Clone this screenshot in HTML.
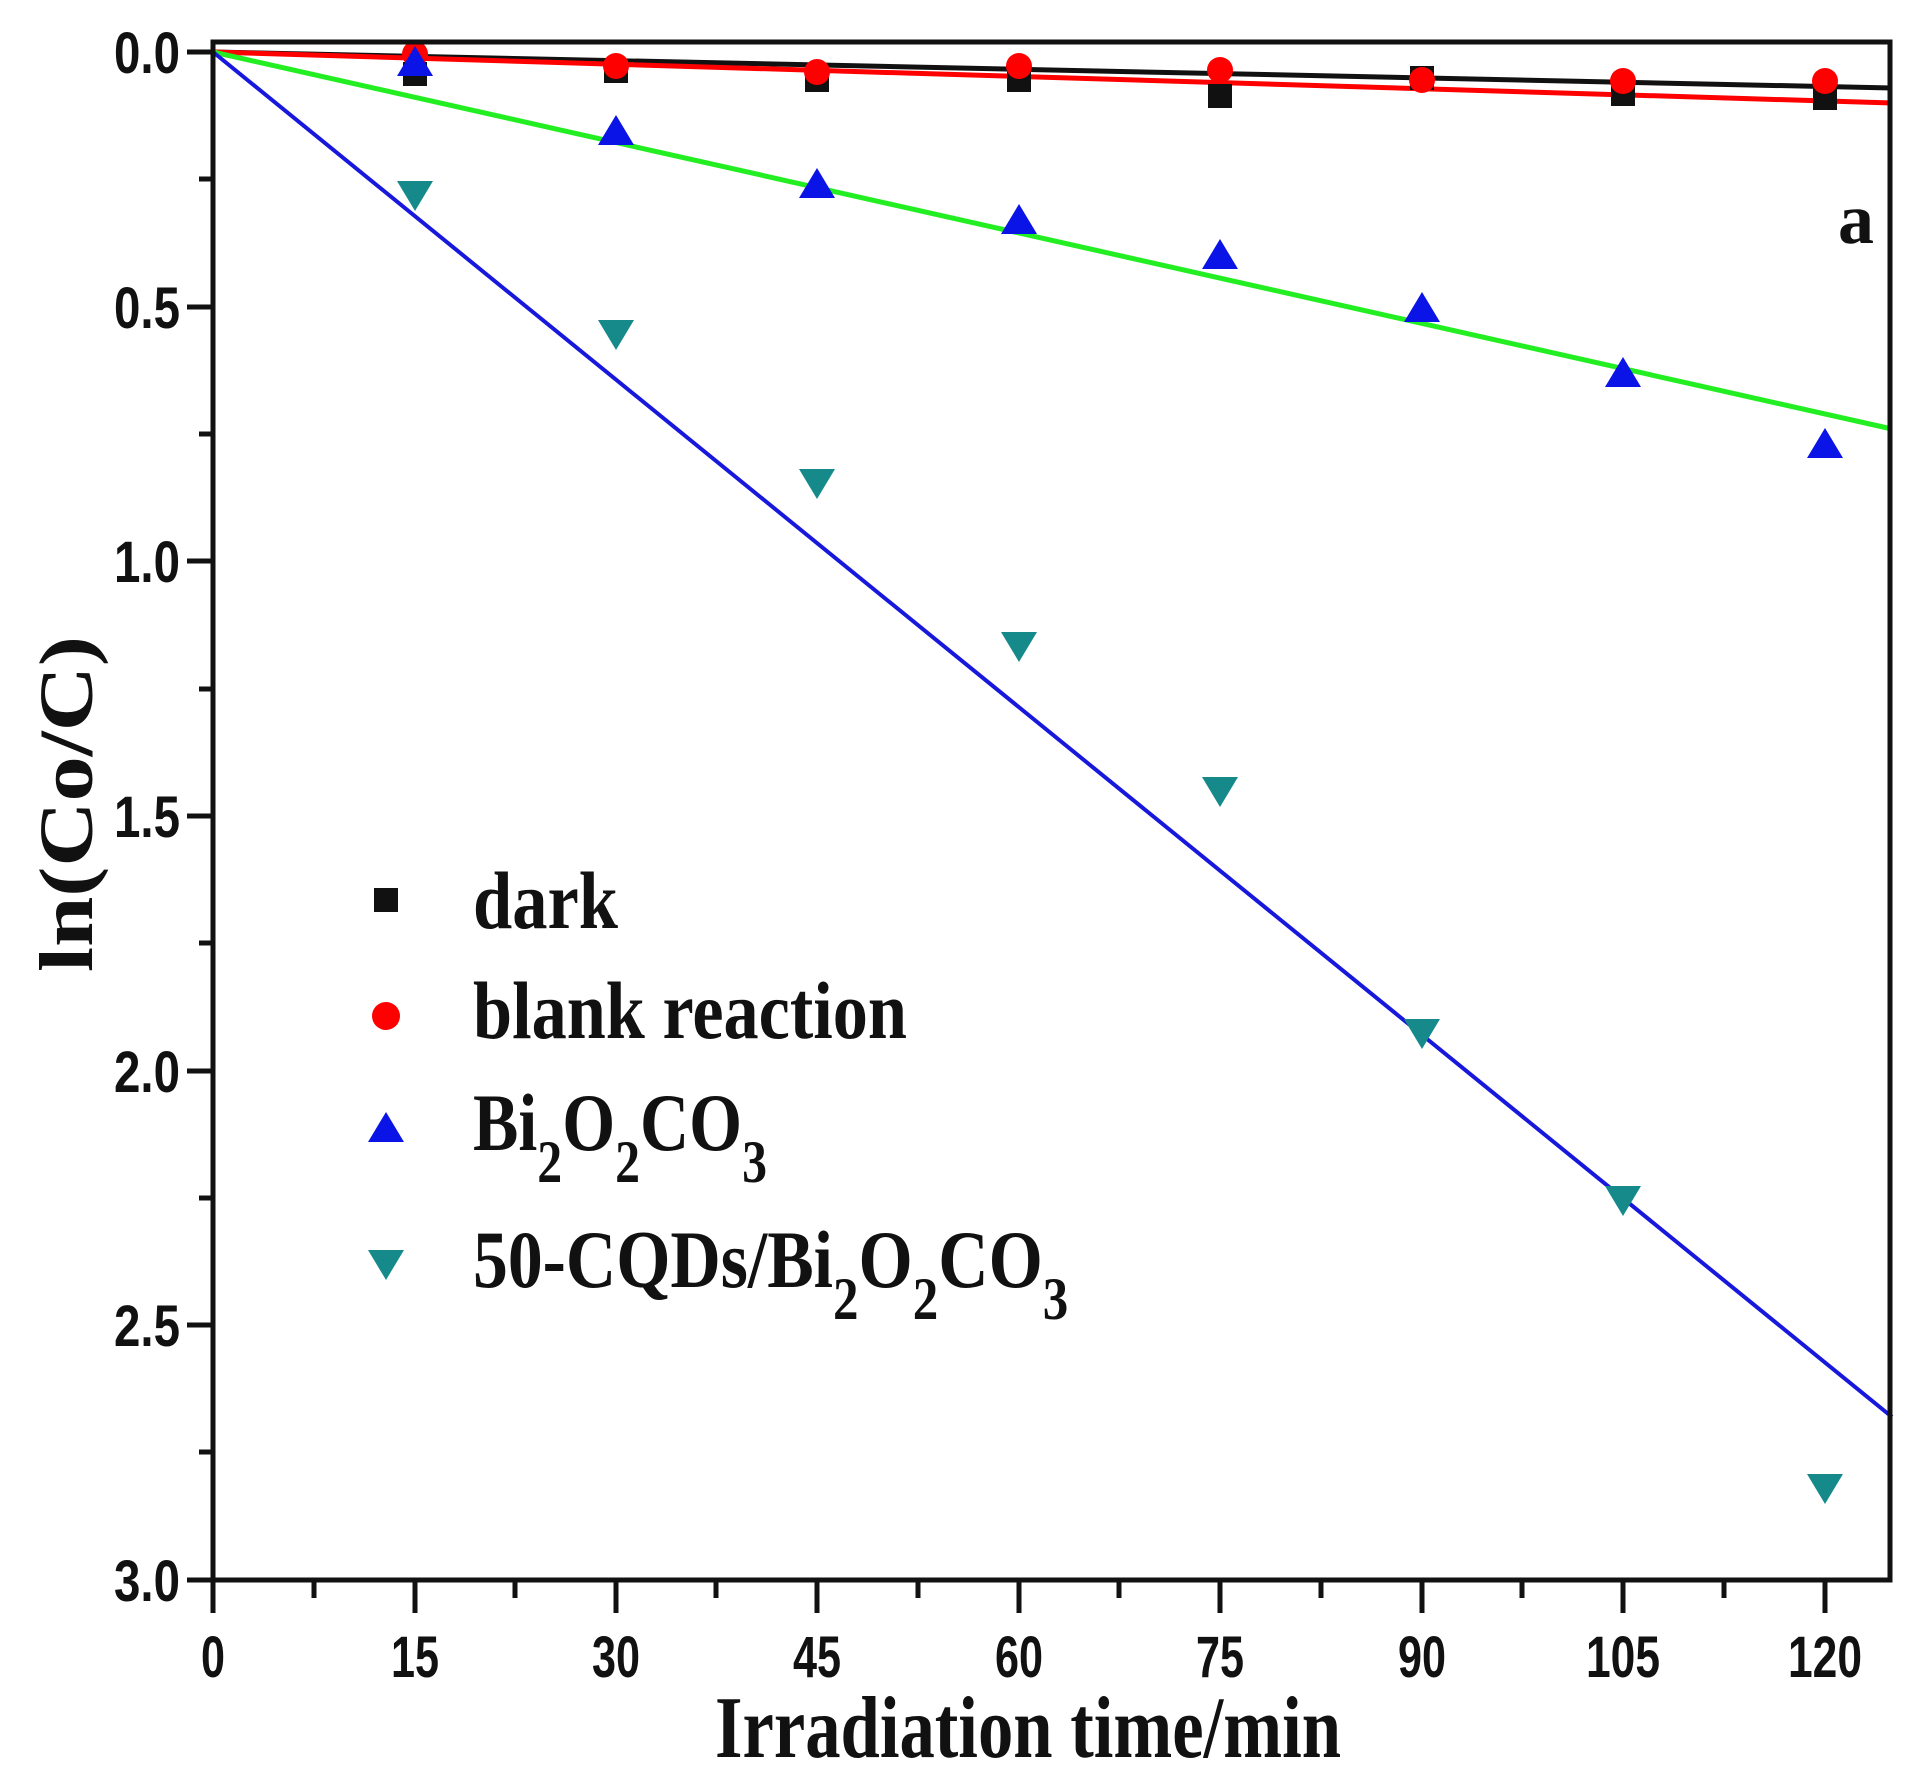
<!DOCTYPE html>
<html><head><meta charset="utf-8"><style>html,body{margin:0;padding:0;background:#fff}</style></head>
<body>
<svg width="1917" height="1786" viewBox="0 0 1917 1786" xmlns="http://www.w3.org/2000/svg">
<rect width="1917" height="1786" fill="#fff"/>
<g font-family="Liberation Sans, Arial, sans-serif" font-weight="bold" font-size="58" fill="#111" text-anchor="end">
<text x="180" y="73" textLength="66" lengthAdjust="spacingAndGlyphs">0.0</text>
<text x="180" y="328" textLength="66" lengthAdjust="spacingAndGlyphs">0.5</text>
<text x="180" y="582" textLength="66" lengthAdjust="spacingAndGlyphs">1.0</text>
<text x="180" y="837" textLength="66" lengthAdjust="spacingAndGlyphs">1.5</text>
<text x="180" y="1092" textLength="66" lengthAdjust="spacingAndGlyphs">2.0</text>
<text x="180" y="1346" textLength="66" lengthAdjust="spacingAndGlyphs">2.5</text>
<text x="180" y="1601" textLength="66" lengthAdjust="spacingAndGlyphs">3.0</text>
</g>
<g font-family="Liberation Sans, Arial, sans-serif" font-weight="bold" font-size="58" fill="#111" text-anchor="middle">
<text x="213" y="1677" textLength="24" lengthAdjust="spacingAndGlyphs">0</text>
<text x="415" y="1677" textLength="48" lengthAdjust="spacingAndGlyphs">15</text>
<text x="616" y="1677" textLength="48" lengthAdjust="spacingAndGlyphs">30</text>
<text x="817" y="1677" textLength="48" lengthAdjust="spacingAndGlyphs">45</text>
<text x="1019" y="1677" textLength="48" lengthAdjust="spacingAndGlyphs">60</text>
<text x="1220" y="1677" textLength="48" lengthAdjust="spacingAndGlyphs">75</text>
<text x="1422" y="1677" textLength="48" lengthAdjust="spacingAndGlyphs">90</text>
<text x="1623" y="1677" textLength="74" lengthAdjust="spacingAndGlyphs">105</text>
<text x="1825" y="1677" textLength="74" lengthAdjust="spacingAndGlyphs">120</text>
</g>
<g stroke="#111" stroke-width="5">
<line x1="187" y1="52" x2="213" y2="52"/><line x1="187" y1="307" x2="213" y2="307"/><line x1="187" y1="561" x2="213" y2="561"/><line x1="187" y1="816" x2="213" y2="816"/><line x1="187" y1="1071" x2="213" y2="1071"/><line x1="187" y1="1325" x2="213" y2="1325"/><line x1="187" y1="1580" x2="213" y2="1580"/>
<line x1="199" y1="179" x2="213" y2="179"/><line x1="199" y1="434" x2="213" y2="434"/><line x1="199" y1="689" x2="213" y2="689"/><line x1="199" y1="943" x2="213" y2="943"/><line x1="199" y1="1198" x2="213" y2="1198"/><line x1="199" y1="1452" x2="213" y2="1452"/>
<line x1="213" y1="1580" x2="213" y2="1613"/><line x1="415" y1="1580" x2="415" y2="1613"/><line x1="616" y1="1580" x2="616" y2="1613"/><line x1="817" y1="1580" x2="817" y2="1613"/><line x1="1019" y1="1580" x2="1019" y2="1613"/><line x1="1220" y1="1580" x2="1220" y2="1613"/><line x1="1422" y1="1580" x2="1422" y2="1613"/><line x1="1623" y1="1580" x2="1623" y2="1613"/><line x1="1825" y1="1580" x2="1825" y2="1613"/>
<line x1="314" y1="1580" x2="314" y2="1598"/><line x1="515" y1="1580" x2="515" y2="1598"/><line x1="716" y1="1580" x2="716" y2="1598"/><line x1="918" y1="1580" x2="918" y2="1598"/><line x1="1119" y1="1580" x2="1119" y2="1598"/><line x1="1321" y1="1580" x2="1321" y2="1598"/><line x1="1522" y1="1580" x2="1522" y2="1598"/><line x1="1724" y1="1580" x2="1724" y2="1598"/>
</g>
<line x1="213" y1="52" x2="1892" y2="88" stroke="#111" stroke-width="5"/>
<line x1="213" y1="52" x2="1892" y2="103" stroke="#f00" stroke-width="5"/>
<line x1="213" y1="52" x2="1892" y2="429" stroke="#22ee22" stroke-width="5"/>
<line x1="213" y1="52" x2="1892" y2="1417" stroke="#1818dd" stroke-width="4"/>
<g fill="#111">
<rect x="403" y="62" width="24" height="24"/><rect x="604" y="59" width="24" height="24"/><rect x="805" y="68" width="24" height="24"/><rect x="1007" y="68" width="24" height="24"/><rect x="1208" y="84" width="24" height="24"/><rect x="1410" y="66" width="24" height="24"/><rect x="1611" y="82" width="24" height="24"/><rect x="1813" y="86" width="24" height="24"/>
</g>
<g fill="#f00">
<circle cx="415" cy="54" r="13"/><circle cx="616" cy="66" r="13"/><circle cx="817" cy="72" r="13"/><circle cx="1019" cy="66" r="13"/><circle cx="1220" cy="70" r="13"/><circle cx="1422" cy="80" r="13"/><circle cx="1623" cy="81" r="13"/><circle cx="1825" cy="81" r="13"/>
</g>
<g fill="#0a14e6">
<polygon points="415,46 397,76 433,76"/><polygon points="616,115 598,145 634,145"/><polygon points="817,168 799,198 835,198"/><polygon points="1019,204 1001,234 1037,234"/><polygon points="1220,239 1202,269 1238,269"/><polygon points="1422,292 1404,322 1440,322"/><polygon points="1623,357 1605,387 1641,387"/><polygon points="1825,428 1807,458 1843,458"/>
</g>
<g fill="#168a8a">
<polygon points="397,181 433,181 415,211"/><polygon points="598,320 634,320 616,350"/><polygon points="799,469 835,469 817,499"/><polygon points="1001,632 1037,632 1019,662"/><polygon points="1202,777 1238,777 1220,807"/><polygon points="1404,1019 1440,1019 1422,1049"/><polygon points="1605,1186 1641,1186 1623,1216"/><polygon points="1807,1474 1843,1474 1825,1504"/>
</g>
<rect x="213" y="42" width="1677" height="1538" fill="none" stroke="#111" stroke-width="5"/>
<text x="1856" y="243" font-family="Liberation Serif, Times New Roman, serif" font-weight="bold" font-size="72" text-anchor="middle" fill="#111">a</text>
<rect x="374" y="888" width="24" height="24" fill="#111"/>
<circle cx="386" cy="1016" r="14" fill="#f00"/>
<polygon points="386,1112 368,1142 404,1142" fill="#0a14e6"/>
<polygon points="368,1250 404,1250 386,1280" fill="#168a8a"/>
<g font-family="Liberation Serif, Times New Roman, serif" font-weight="bold" font-size="82" fill="#111">
<text x="473" y="928" textLength="145" lengthAdjust="spacingAndGlyphs">dark</text>
<text x="473" y="1038" textLength="434" lengthAdjust="spacingAndGlyphs">blank reaction</text>
<g transform="translate(473,0) scale(0.83,1) translate(-473,0)">
<text x="473" y="1150">Bi<tspan font-size="60" dy="32">2</tspan><tspan dy="-32">O</tspan><tspan font-size="60" dy="32">2</tspan><tspan dy="-32">CO</tspan><tspan font-size="60" dy="32">3</tspan></text>
</g>
<g transform="translate(473,0) scale(0.85,1) translate(-473,0)">
<text x="473" y="1287">50-CQDs/Bi<tspan font-size="60" dy="32">2</tspan><tspan dy="-32">O</tspan><tspan font-size="60" dy="32">2</tspan><tspan dy="-32">CO</tspan><tspan font-size="60" dy="32">3</tspan></text>
</g>
<text x="715" y="1757" font-size="88" textLength="626" lengthAdjust="spacingAndGlyphs">Irradiation time/min</text>
<text transform="translate(92,804) rotate(-90)" text-anchor="middle" font-size="76" textLength="336" lengthAdjust="spacingAndGlyphs">ln(Co/C)</text>
</g>
</svg>
</body></html>
